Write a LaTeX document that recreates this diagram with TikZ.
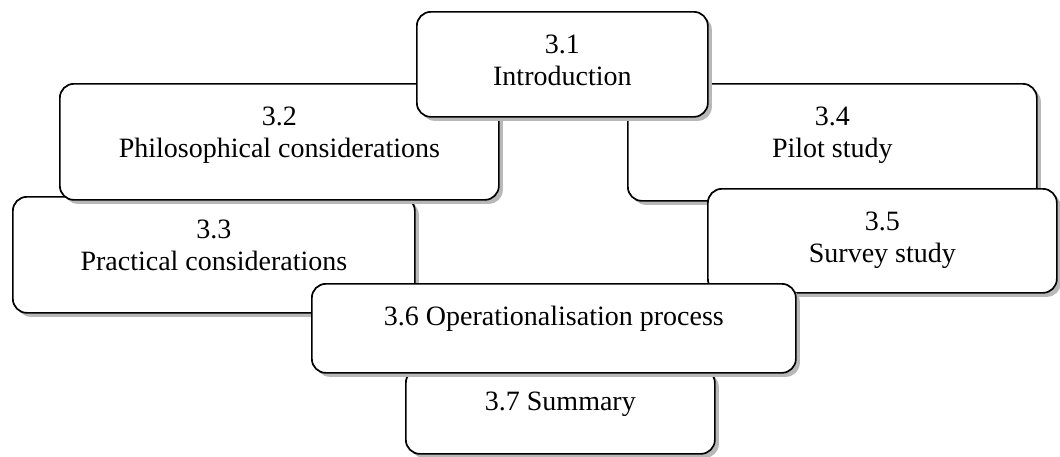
\documentclass[tikz,border=0pt]{standalone}
\usepackage{fontspec}
\setmainfont{Liberation Serif}
\usetikzlibrary{shadows}

\tikzset{
  box/.style={draw=black, line width=1.7pt, fill=white, rounded corners=14pt,
    inner sep=0pt, anchor=north west,
    drop shadow={shadow xshift=4pt, shadow yshift=-4pt, fill=black!28, opacity=1}},
  lbl/.style={font=\fontsize{28}{32}\selectfont, align=center, inner sep=0pt, anchor=base}
}

\begin{document}
\begin{tikzpicture}[x=1pt, y=-1pt]
  \useasboundingbox (0,0) rectangle (1060,456);

  % chapter sections, back to front; the base of a two-line label is its second line
  \node[box, minimum width=309pt, minimum height=85pt]  (b37) at (405,368) {};
  \node[lbl] (t37) at ([yshift=-42pt]b37.north) {3.7 Summary};

  \node[box, minimum width=402pt, minimum height=116pt] (b33) at (12,196) {};
  \node[lbl] (t33) at ([yshift=-74pt]b33.north) {3.3\\Practical considerations};

  \node[box, minimum width=439pt, minimum height=116pt] (b32) at (59,83) {};
  \node[lbl] (t32) at ([yshift=-74pt]b32.north) {3.2\\Philosophical considerations};

  \node[box, minimum width=409pt, minimum height=117pt] (b34) at (627,83) {};
  \node[lbl] (t34) at ([yshift=-74pt]b34.north) {3.4\\Pilot study};

  \node[box, minimum width=349pt, minimum height=104pt] (b35) at (707,188) {};
  \node[lbl] (t35) at ([yshift=-74pt]b35.north) {3.5\\Survey study};

  \node[box, minimum width=291pt, minimum height=105pt] (b31) at (416,11) {};
  \node[lbl] (t31) at ([yshift=-74pt]b31.north) {3.1\\Introduction};

  \node[box, minimum width=484pt, minimum height=89pt]  (b36) at (311,283) {};
  \node[lbl] (t36) at ([yshift=-42pt]b36.north) {3.6 Operationalisation process};
\end{tikzpicture}
\end{document}
